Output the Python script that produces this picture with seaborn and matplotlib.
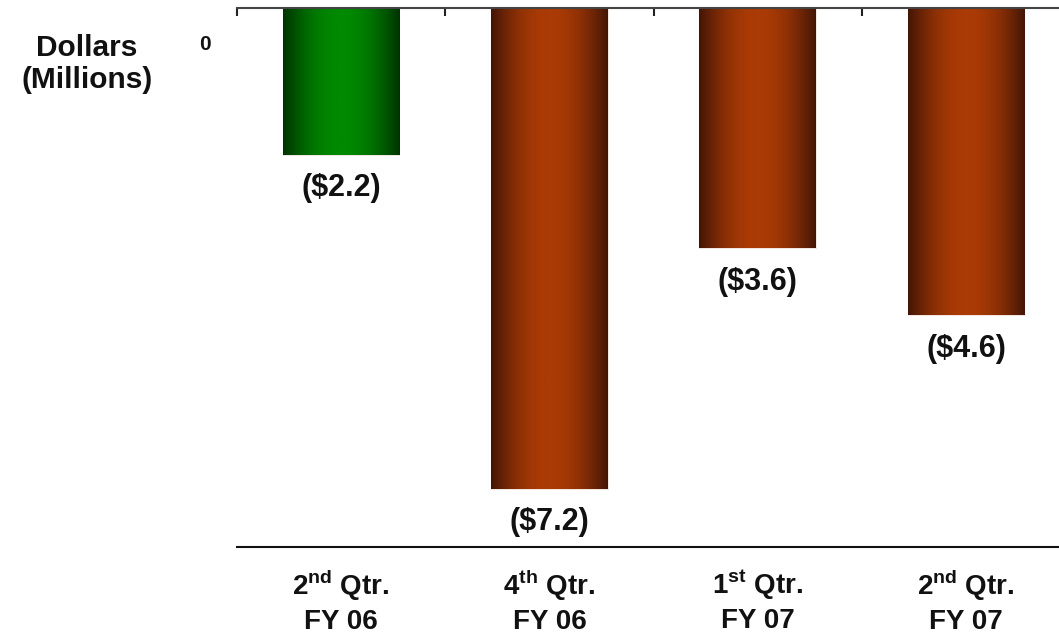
import numpy as np
import pandas as pd
import matplotlib
matplotlib.use("Agg")
import matplotlib.pyplot as plt
from matplotlib.colors import LinearSegmentedColormap
from matplotlib.transforms import ScaledTranslation
import seaborn as sns

# Quarterly results in millions of dollars
quarters = [r"2$^{\mathbf{nd}}$ Qtr." + "\nFY 06",
            r"4$^{\mathbf{th}}$ Qtr." + "\nFY 06",
            r"1$^{\mathbf{st}}$ Qtr." + "\nFY 07",
            r"2$^{\mathbf{nd}}$ Qtr." + "\nFY 07"]
values = [-2.2, -7.2, -3.6, -4.6]
bar_kind = ["profit", "loss", "loss", "loss"]

sns.set_theme(style="white")
plt.rcParams["font.family"] = ["Liberation Sans", "DejaVu Sans"]
plt.rcParams["font.weight"] = "bold"
plt.rcParams["mathtext.fontset"] = "custom"
plt.rcParams["mathtext.rm"] = "Liberation Sans:bold"
plt.rcParams["mathtext.bf"] = "Liberation Sans:bold"

df = pd.DataFrame({"quarter": quarters, "value": values, "kind": bar_kind})

fig = plt.figure(figsize=(10.59, 6.39), dpi=100)
ax = fig.add_axes([237 / 1059, 1 - 547 / 639, 822 / 1059, 539 / 639])

shades = {"profit": ("#003200", "#008a00"), "loss": ("#421505", "#ab3b06")}
sns.barplot(data=df, x="quarter", y="value", hue="kind",
            palette={k: v[1] for k, v in shades.items()},
            width=0.56, legend=False, ax=ax, saturation=1)

# Replace flat fills with a horizontal cylinder-like shading
t = np.linspace(0, 1, 256)
profile = np.clip(np.sin(np.pi * t) ** 0.9, 0, 1)
for patch, kind in zip(ax.patches, bar_kind):
    dark, bright = shades[kind]
    cmap = LinearSegmentedColormap.from_list(kind, [dark, bright])
    x0, y0 = patch.get_x(), patch.get_y()
    w, h = patch.get_width(), patch.get_height()
    img = ax.imshow(profile[np.newaxis, :], cmap=cmap, aspect="auto",
                    extent=[x0, x0 + w, y0 + h, y0], vmin=0, vmax=1,
                    zorder=patch.get_zorder() + 0.1)
    img.set_clip_path(patch)
    patch.set_edgecolor("#f2e6e0")
    patch.set_linewidth(0.8)

ax.set_xlim(-0.5, 3.446)
ax.set_ylim(-8.07, 0)

# Value labels under each bar
for i, v in enumerate(values):
    ax.annotate(f"(${abs(v):.1f})", xy=(i, v), xytext=(0, -24),
                textcoords="offset points", ha="center", va="center",
                fontsize=22, fontweight="bold", color="#111111")

# Axes frame: zero line on top, baseline at bottom
for side in ("left", "right"):
    ax.spines[side].set_visible(False)
ax.spines["top"].set_color("#444444")
ax.spines["top"].set_linewidth(1.5)
ax.spines["bottom"].set_color("#111111")
ax.spines["bottom"].set_linewidth(1.5)

ax.set_xticks(range(len(quarters)))
ax.set_xticklabels(quarters, fontsize=20, fontweight="bold", linespacing=1.3)
ax.set_xticks([-0.5, 0.5, 1.5, 2.5], minor=True)
ax.tick_params(axis="x", which="major", length=0, pad=15, colors="#111111")
ax.tick_params(axis="x", which="minor", top=True, bottom=False,
               direction="in", length=6, width=1.5, color="#222222")

ax.set_yticks([0])
ax.set_yticklabels(["0"], fontsize=15, fontweight="bold", color="#111111")
ax.tick_params(axis="y", length=0, pad=19)
for lbl in ax.get_yticklabels():
    lbl.set_transform(lbl.get_transform() +
                      ScaledTranslation(0, -0.35, fig.dpi_scale_trans))

ax.set_xlabel("")
ax.set_ylabel("")
fig.text(87 / 1059, 1 - 64 / 639, "Dollars\n(Millions)", ha="center",
         va="center", fontsize=21.5, fontweight="bold", linespacing=1.2,
         color="#111111")

fig.savefig("out.png", dpi=100)
